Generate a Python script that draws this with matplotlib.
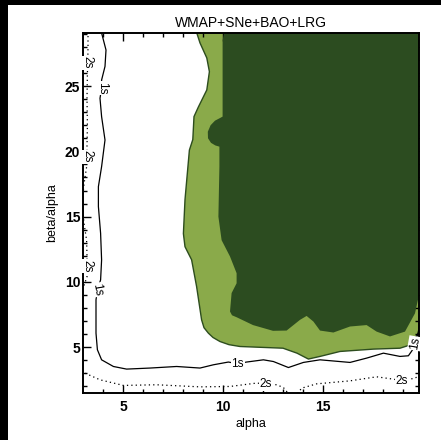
import matplotlib
matplotlib.use("Agg")
import matplotlib.pyplot as plt
from matplotlib.patches import Rectangle

plt.rcParams['font.family'] = ['Liberation Sans', 'DejaVu Sans']

# outer (2 sigma, light green) region boundary
outer_x = [8.69, 8.69, 8.85, 9.19, 9.32, 9.19, 8.77, 8.55, 8.49, 8.32, 8.1, 8.02, 8.1, 8.43,
           8.68, 8.93, 9.05, 9.27, 9.5, 9.85, 10.3, 10.85, 13.0, 13.7, 14.27, 14.85, 15.85,
           17.52, 18.85, 19.3, 19.52, 19.77, 21.0, 21.0]
outer_y = [30.0, 29.06, 28.3, 27.15, 26.1, 24.7, 23.4, 22.66, 20.9, 20.1, 16.3, 13.7, 12.7, 11.7,
           9.65, 7.1, 6.5, 6.08, 5.75, 5.44, 5.2, 5.06, 4.93, 4.55, 4.1, 4.3, 4.68,
           4.86, 4.93, 5.15, 5.57, 6.08, 6.08, 30.0]

# inner (1 sigma, dark green) region boundary
inner_x = [10.05, 10.05, 9.98, 9.98, 9.85, 9.6, 9.38, 9.24, 9.25, 9.4, 9.62, 9.82, 9.82, 9.77,
           9.93, 10.35, 10.68, 10.68, 10.43, 10.35, 10.45, 10.68, 11.5, 12.5, 13.18, 13.85,
           14.18, 14.52, 14.85, 15.52, 16.35, 17.18, 17.68, 18.35, 19.1, 19.6, 19.82, 21.0, 21.0]
inner_y = [30.0, 29.06, 28.5, 22.66, 22.55, 22.35, 22.0, 21.5, 21.0, 20.65, 20.45, 20.36, 18.83,
           15.0, 13.2, 11.95, 10.67, 9.9, 9.15, 7.74, 7.45, 7.3, 6.7, 6.26, 6.28, 7.1,
           7.4, 6.97, 6.28, 6.13, 6.59, 6.7, 6.2, 5.83, 6.2, 7.6, 9.14, 9.14, 30.0]

# second data set, 1 sigma line
line1_x = [3.93, 3.93, 4.15, 4.1, 3.93, 3.93, 3.85, 3.93, 4.1, 3.93, 3.77, 3.77, 3.88, 3.93,
           3.88, 3.72, 3.65, 3.65, 3.72, 3.93, 4.52, 5.18, 6.35, 7.68, 8.85, 9.52, 10.27,
           10.73, 11.18, 12.02, 12.52, 13.27, 14.02, 14.85, 16.35, 17.18, 18.02, 18.85,
           19.27, 19.48, 19.6, 19.75, 19.85]
line1_y = [29.5, 29.06, 27.76, 26.5, 25.46, 24.83, 24.06, 22.66, 20.87, 18.83, 17.3, 15.77,
           13.73, 11.69, 10.16, 9.4, 8.63, 6.08, 4.81, 4.04, 3.53, 3.33, 3.41, 3.53, 3.41,
           3.66, 3.87, 3.74, 3.87, 4.04, 3.91, 3.45, 3.84, 4.04, 3.84, 4.17, 4.55, 4.3,
           4.35, 4.81, 5.3, 6.08, 6.8]

# second data set, 2 sigma line (left part)
line2a_x = [3.25, 3.25, 3.24, 3.22, 3.2, 3.22, 3.2, 3.2, 3.18, 3.05, 2.95, 3.05, 3.18, 3.2,
            3.2, 3.2, 3.0]
line2a_y = [29.5, 28.0, 26.8, 26.0, 24.0, 22.0, 20.4, 19.6, 18.8, 17.5, 16.0, 14.5, 13.2,
            12.0, 11.2, 10.4, 9.5]

# second data set, 2 sigma line (bottom part)
line2b_x = [2.9, 3.1, 3.85, 5.02, 6.68, 8.85, 10.35, 11.68, 12.13, 12.68, 13.02, 13.3, 13.7,
            13.93, 14.68, 16.35, 17.68, 18.52, 18.93, 19.6, 19.9]
line2b_y = [3.1, 3.02, 2.51, 2.08, 2.13, 1.97, 2.0, 2.26, 2.2, 2.13, 1.92, 1.4, 1.4,
            1.87, 2.2, 2.43, 2.74, 2.56, 2.43, 2.64, 2.9]

# contour labels: x, y, text, rotation
label_x = [3.93, 3.72, 10.73, 19.6, 3.24, 3.2, 3.2, 12.13, 18.93]
label_y = [24.83, 9.4, 3.74, 5.3, 26.8, 19.6, 11.2, 2.2, 2.43]
label_txt = ['1s', '1s', '1s', '1s', '2s', '2s', '2s', '2s', '2s']
label_rot = [-90, -80, 0, 80, -90, -90, -90, 0, 0]

fig = plt.figure(figsize=(4.41, 4.40), dpi=100, facecolor='black')
fig.patches.append(Rectangle((8 / 441, 0), 1, 1 - 5 / 440, transform=fig.transFigure,
                             facecolor='white', edgecolor='none', zorder=-10))
ax = fig.add_axes([83 / 441, 1 - 393 / 440, 336 / 441, 360 / 440])
ax.set_zorder(1)

ax.fill(outer_x, outer_y, color='#8aaa4a', edgecolor='#2d4d1e', linewidth=1.0, zorder=1)
ax.fill(inner_x, inner_y, color='#2c4c20', edgecolor='none', zorder=2)

ax.plot(line1_x, line1_y, color='black', linewidth=0.9, zorder=3)
ax.plot(line2a_x, line2a_y, color='black', linewidth=0.9, linestyle=(0, (1, 2.5)), zorder=3)
ax.plot(line2b_x, line2b_y, color='black', linewidth=0.9, linestyle=(0, (1, 2.5)), zorder=3)

for x, y, t, r in zip(label_x, label_y, label_txt, label_rot):
    ax.text(x, y, t, rotation=r, fontsize=8.5, ha='center', va='center', zorder=4,
            bbox=dict(facecolor='white', edgecolor='none', pad=0.6))

ax.set_xlim(3, 19.8)
ax.set_ylim(1.5, 29.06)
ax.set_xticks([5, 10, 15])
ax.set_yticks([5, 10, 15, 20, 25])
ax.set_xticks(range(4, 20), minor=True)
ax.set_yticks(range(2, 30), minor=True)
ax.tick_params(which='both', direction='in', top=True, right=True, width=1.0, color='black')
ax.tick_params(which='major', length=5.5)
ax.tick_params(which='minor', length=3)
ax.tick_params(axis='x', pad=5, labelsize=10)
ax.tick_params(axis='y', pad=2, labelsize=10)
for lab in ax.get_xticklabels() + ax.get_yticklabels():
    lab.set_fontweight('bold')
for sp in ax.spines.values():
    sp.set_linewidth(1.4)

ax.set_title('WMAP+SNe+BAO+LRG', fontsize=10, pad=4)
ax.set_xlabel('alpha', fontsize=9, labelpad=3)
ax.set_ylabel('beta/alpha', fontsize=9, labelpad=5)

fig.savefig('out.png', dpi=100, facecolor=fig.get_facecolor())
